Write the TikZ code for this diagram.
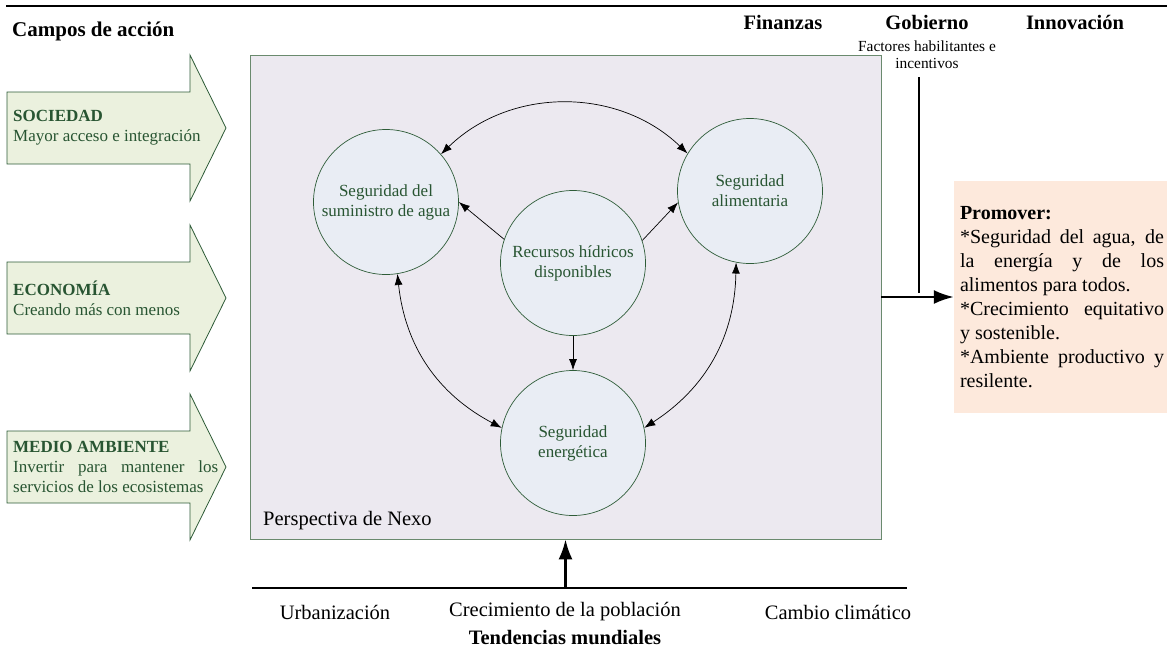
\documentclass[tikz,border=0pt]{standalone}
\usepackage{fontspec}
\setmainfont{Liberation Serif}
\usepackage{tikz}
\usetikzlibrary{arrows.meta,calc}

\definecolor{campofill}{HTML}{EBF1DE}
\definecolor{campoline}{HTML}{2E5C38}
\definecolor{verdetexto}{HTML}{285532}
\definecolor{nexofill}{HTML}{ECE9F0}
\definecolor{nexoline}{HTML}{6A8A6E}
\definecolor{circfill}{HTML}{E9EDF4}
\definecolor{promfill}{HTML}{FDE9DC}

\hyphenpenalty=10000
\exhyphenpenalty=10000

% flecha verde de los campos de accion, centrada en y = #1
\def\campoflecha(#1){\draw[campo] (7,#1-36) -- (190,#1-36) -- (190,#1-73) -- (226,#1) -- (190,#1+73) -- (190,#1+36) -- (7,#1+36) -- cycle;}

\tikzset{
	campo/.style={draw=campoline, fill=campofill, line width=0.8pt},
	campotxt/.style={anchor=west, text width=205pt, align=justify, inner sep=0pt, text=verdetexto, font=\fontsize{17}{20}\selectfont},
	nexo/.style={draw=nexoline, fill=nexofill, line width=0.8pt, minimum width=631pt, minimum height=484pt, inner sep=0pt},
	circulo/.style={circle, draw=campoline, fill=circfill, line width=0.7pt, minimum size=145pt, inner sep=0pt, align=center, text=verdetexto, font=\fontsize{17}{20}\selectfont},
	simple/.style={-{Latex[length=11pt,width=8pt]}, line width=0.7pt},
	doble/.style={{Latex[length=11pt,width=8pt]}-{Latex[length=11pt,width=8pt]}, line width=0.7pt},
	gruesa/.style={line width=2.4pt},
	gruesaflecha/.style={-{Latex[length=20pt,width=14pt]}, line width=2.4pt},
	titulo/.style={font=\fontsize{20.5}{24}\selectfont\bfseries, inner sep=0pt},
	texto/.style={font=\fontsize{20.5}{24}\selectfont, inner sep=0pt},
	promo/.style={fill=promfill, text width=204pt, minimum height=232pt, inner xsep=6pt, align=justify, font=\fontsize{20}{24}\selectfont},
}

\begin{document}
\begin{tikzpicture}[x=1pt, y=-1pt]
			%%%%% START %%%%%
			\useasboundingbox (0,0) rectangle (1167,649);
			
			\draw[gruesa] (6,6) -- (1167,6);
			
			\node[titulo, font=\fontsize{21}{24}\selectfont\bfseries, anchor=west] (campos) at (12,31) {Campos de acción};
			\node[titulo] (finanzas) at (783,22) {Finanzas};
			\node[titulo] (gobierno) at (927,22) {Gobierno};
			\node[titulo] (innovacion) at (1075,22) {Innovación};
			\node[font=\fontsize{15.4}{17}\selectfont, align=center, inner sep=0pt] (factores) at (927,55) {Factores habilitantes e\\incentivos};
			
			%% campos de accion
			\campoflecha(128)
			\node[campotxt] (sociedad) at (13,128) {\textbf{SOCIEDAD}\\Mayor acceso e integración};
			\campoflecha(298)
			\node[campotxt] (economia) at (13,298) {\textbf{ECONOMÍA}\\Creando más con menos};
			\campoflecha(467)
			\node[campotxt] (ambiente) at (13,467) {\textbf{MEDIO AMBIENTE}\\Invertir para mantener los servicios de los ecosistemas};
			
			%% perspectiva de nexo
			\node[nexo] (nexo) at (565.5,297) {};
			\node[texto, anchor=west] (persp) at (263,521) {Perspectiva de Nexo};
			
			\node[circulo] (agua) at (386,202) {Seguridad del\\suministro de agua};
			\node[circulo] (recursos) at (573,263) {Recursos hídricos\\disponibles};
			\node[circulo] (alimento) at (750,191) {Seguridad\\alimentaria};
			\node[circulo] (energia) at (573,443) {Seguridad\\energética};
			
			\draw[doble] (agua.41) to[bend left=44] (alimento.149);
			\draw[doble] (agua.-81) to[bend right=28] (energia.168);
			\draw[doble] (alimento.-101) to[bend left=28] (energia.12);
			\draw[simple] (recursos.161) -- (agua.east);
			\draw[simple] (recursos.18) -- (alimento.189);
			\draw[simple] (recursos.south) -- (energia.north);
			
			%% promover
			\node[promo] (promover) at (1062,297) {\textbf{Promover:}\par *Seguridad del agua, de\linebreak la energía y de los\linebreak alimentos para todos.\par *Crecimiento equitativo\linebreak y sostenible.\par *Ambiente productivo y\linebreak resilente.};
			
			\coordinate (gobtop) at (919,77);
			\coordinate (gobbot) at (919,293);
			\draw[gruesa] (gobtop) -- (gobbot);
			\draw[gruesaflecha] (nexo.east) -- (promover.west);
			
			%% tendencias mundiales
			\coordinate (tendizq) at (252,588);
			\coordinate (tendder) at (907,588);
			\coordinate (tendmed) at (565.5,588);
			\draw[gruesa] (tendizq) -- (tendder);
			\draw[gruesaflecha] (tendmed) -- (nexo.south);
			
			\node[texto] (urbaniz) at (335,612) {Urbanización};
			\node[texto] (crecim) at (565,612) {Crecimiento de la población};
			\node[texto] (cambio) at (838,612) {Cambio climático};
			\node[titulo] (tendencias) at (565,637) {Tendencias mundiales};
			
			%%%%% END %%%%%
\end{tikzpicture}
\end{document}
